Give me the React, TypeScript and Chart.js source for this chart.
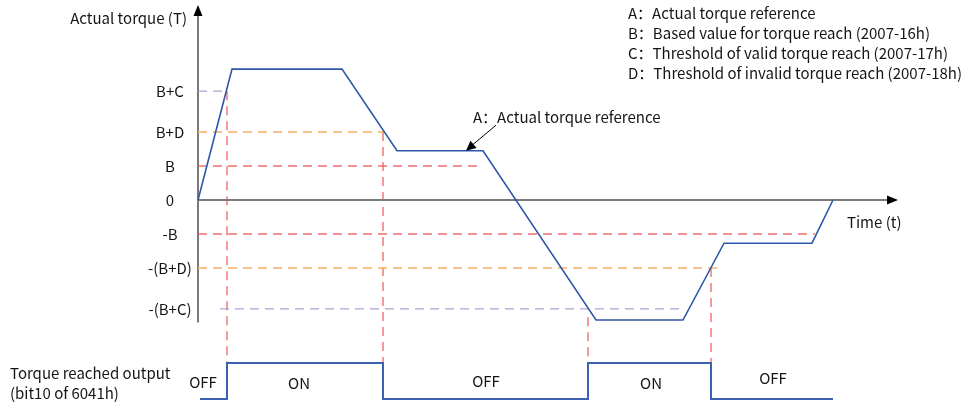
import React, { useEffect, useRef } from "react";
import { Chart, registerables } from "chart.js";

Chart.register(...registerables);

// Torque curve (time units, torque units where B = 1)
const torqueTime = [0, 3.4, 14.4, 19.9, 28.5, 39.8, 48.5, 52.6, 61.4, 63.5];
const torqueValue = [0, 3.85, 3.85, 1.45, 1.45, -3.53, -3.53, -1.27, -1.27, 0];

// Output signal (0 = OFF, 1 = ON), stepped
const signalTime = [0.2, 2.9, 18.5, 39.0, 51.3, 63.5];
const signalValue = [0, 1, 0, 1, 0, 0];
const signalLabels = ["OFF", "ON", "OFF", "ON", "OFF"];
const signalLabelTime = [0.5, 10.1, 28.8, 45.3, 57.5];
const signalLabelLevel = [0.47, 0.45, 0.5, 0.45, 0.58];

// Y tick labels
const tickValues = [3.2, 2, 1, 0, -1, -2, -3.2];
const tickLabels = ["B+C", "B+D", "B", "0", "-B", "-(B+D)", "-(B+C)"];

// Threshold dashed lines
const thresholdLevels = [3.2, 2, 1, -1, -2, -3.2];
const thresholdStart = [0, 0, 0, 0, 0, 2.2];
const thresholdEnd = [2.9, 18.5, 28.5, 61.7, 51.9, 48.5];
const thresholdColors = [
  "rgba(180,160,215,1)",
  "rgba(246,175,100,1)",
  "rgba(240,95,95,0.9)",
  "rgba(240,95,95,0.9)",
  "rgba(246,175,100,1)",
  "rgba(180,160,215,1)",
];

// Vertical switching lines (time, torque level where they start)
const switchTime = [2.9, 18.5, 39.0, 51.3];
const switchLevel = [3.2, 2, -3.45, -2];

const legendLines = [
  "A：Actual torque reference",
  "B：Based value for torque reach (2007-16h)",
  "C：Threshold of valid torque reach (2007-17h)",
  "D：Threshold of invalid torque reach (2007-18h)",
];

const FONT = '15px "Noto Sans CJK SC", "Noto Sans", sans-serif';
const TEXT = "#151515";

const drawPlugin = {
  id: "diagram",
  beforeDatasetsDraw(chart: any) {
    const { ctx } = chart;
    const xs = chart.scales.x;
    const ys = chart.scales.y;
    const y2 = chart.scales.y2;
    ctx.save();
    // vertical red dashed lines
    ctx.strokeStyle = "rgba(240,95,95,0.85)";
    ctx.lineWidth = 1.5;
    ctx.setLineDash([9, 6]);
    switchTime.forEach((t, i) => {
      const x = xs.getPixelForValue(t);
      ctx.beginPath();
      ctx.moveTo(x, ys.getPixelForValue(switchLevel[i]));
      ctx.lineTo(x, y2.getPixelForValue(1));
      ctx.stroke();
    });
    ctx.setLineDash([]);
    // axes
    const x0 = xs.getPixelForValue(0);
    const yZero = ys.getPixelForValue(0);
    const yTop = ys.getPixelForValue(ys.max) + 1;
    const yBottom = ys.getPixelForValue(-3.6);
    const xEnd = xs.getPixelForValue(70);
    ctx.strokeStyle = "#7a7a7a";
    ctx.lineWidth = 2;
    ctx.beginPath();
    ctx.moveTo(x0, yTop + 8);
    ctx.lineTo(x0, yBottom);
    ctx.moveTo(x0, yZero);
    ctx.lineTo(xEnd - 9, yZero);
    ctx.stroke();
    ctx.fillStyle = "#000";
    ctx.beginPath();
    ctx.moveTo(x0, yTop);
    ctx.lineTo(x0 - 4.5, yTop + 11);
    ctx.lineTo(x0 + 4.5, yTop + 11);
    ctx.closePath();
    ctx.fill();
    ctx.beginPath();
    ctx.moveTo(xEnd, yZero);
    ctx.lineTo(xEnd - 11, yZero - 4.5);
    ctx.lineTo(xEnd - 11, yZero + 4.5);
    ctx.closePath();
    ctx.fill();
    ctx.restore();
  },
  afterDatasetsDraw(chart: any) {
    const { ctx } = chart;
    const xs = chart.scales.x;
    const ys = chart.scales.y;
    const y2 = chart.scales.y2;
    const x0 = xs.getPixelForValue(0);
    ctx.save();
    ctx.font = FONT;
    ctx.fillStyle = TEXT;
    ctx.textBaseline = "middle";
    // tick labels
    ctx.textAlign = "center";
    tickValues.forEach((v, i) => {
      ctx.fillText(tickLabels[i], x0 - 28, ys.getPixelForValue(v));
    });
    // axis titles
    ctx.textAlign = "right";
    ctx.fillText("Actual torque (T)", x0 - 11, 18);
    ctx.textAlign = "left";
    ctx.fillText("Time (t)", xs.getPixelForValue(64.9), ys.getPixelForValue(0) + 22);
    // signal labels
    ctx.textAlign = "left";
    ctx.fillText("Torque reached output", 10, y2.getPixelForValue(0.72));
    ctx.fillText("(bit10 of 6041h)", 10, y2.getPixelForValue(0.17));
    ctx.textAlign = "center";
    signalLabels.forEach((s, i) => {
      ctx.fillText(s, xs.getPixelForValue(signalLabelTime[i]), y2.getPixelForValue(signalLabelLevel[i]));
    });
    // legend
    ctx.textAlign = "left";
    const legendY = [13, 33, 53, 73];
    legendLines.forEach((s, i) => ctx.fillText(s, 628, legendY[i]));
    // annotation with arrow
    ctx.fillText("A：Actual torque reference", xs.getPixelForValue(27.5), ys.getPixelForValue(2.44));
    const ax1 = xs.getPixelForValue(29.8);
    const ay1 = ys.getPixelForValue(2.2);
    const ax2 = xs.getPixelForValue(26.8);
    const ay2 = ys.getPixelForValue(1.45);
    ctx.strokeStyle = "#000";
    ctx.lineWidth = 1;
    ctx.beginPath();
    ctx.moveTo(ax1, ay1);
    ctx.lineTo(ax2 + 5, ay2 - 4.5);
    ctx.stroke();
    const ang = Math.atan2(ay2 - ay1, ax2 - ax1);
    ctx.fillStyle = "#000";
    ctx.beginPath();
    ctx.moveTo(ax2, ay2);
    ctx.lineTo(ax2 - 11 * Math.cos(ang - 0.45), ay2 - 11 * Math.sin(ang - 0.45));
    ctx.lineTo(ax2 - 11 * Math.cos(ang + 0.45), ay2 - 11 * Math.sin(ang + 0.45));
    ctx.closePath();
    ctx.fill();
    ctx.restore();
  },
};

export default function App() {
  const ref = useRef<HTMLCanvasElement | null>(null);
  useEffect(() => {
    if (!ref.current) return;
    const thresholdSets = thresholdLevels.map((lv, i) => ({
      data: [
        { x: thresholdStart[i], y: lv },
        { x: thresholdEnd[i], y: lv },
      ],
      borderColor: thresholdColors[i],
      borderWidth: 1.3,
      borderDash: [9, 6],
      pointRadius: 0,
      showLine: true,
      clip: false as any,
      yAxisID: "y",
      order: 3,
    }));
    const chart = new Chart(ref.current, {
      type: "scatter",
      data: {
        datasets: [
          ...thresholdSets,
          {
            data: torqueTime.map((t, i) => ({ x: t, y: torqueValue[i] })),
            borderColor: "#2f57a8",
            borderWidth: 1.6,
            pointRadius: 0,
            showLine: true,
            clip: false as any,
            yAxisID: "y",
            order: 1,
          },
          {
            data: signalTime.map((t, i) => ({ x: t, y: signalValue[i] })),
            borderColor: "#3a62b0",
            borderWidth: 2,
            pointRadius: 0,
            showLine: true,
            stepped: true,
            clip: false as any,
            yAxisID: "y2",
            order: 1,
          },
        ],
      },
      options: {
        animation: false,
        responsive: false,
        maintainAspectRatio: false,
        events: [],
        layout: { padding: { left: 198, right: 68, top: 4, bottom: 0 } },
        plugins: { legend: { display: false }, tooltip: { enabled: false }, title: { display: false } },
        scales: {
          x: { type: "linear", min: 0, max: 70, display: false },
          y: { type: "linear", min: -5.941, max: 5.765, display: false },
          y2: { type: "linear", min: -0.0833, max: 10.972, display: false },
        },
      },
      plugins: [drawPlugin],
    });
    return () => chart.destroy();
  }, []);
  return (
    <div style={{ position: "fixed", left: 0, top: 0, width: 966, height: 402, background: "#fff" }}>
      <canvas ref={ref} width={966} height={402} style={{ width: 966, height: 402 }} />
    </div>
  );
}
